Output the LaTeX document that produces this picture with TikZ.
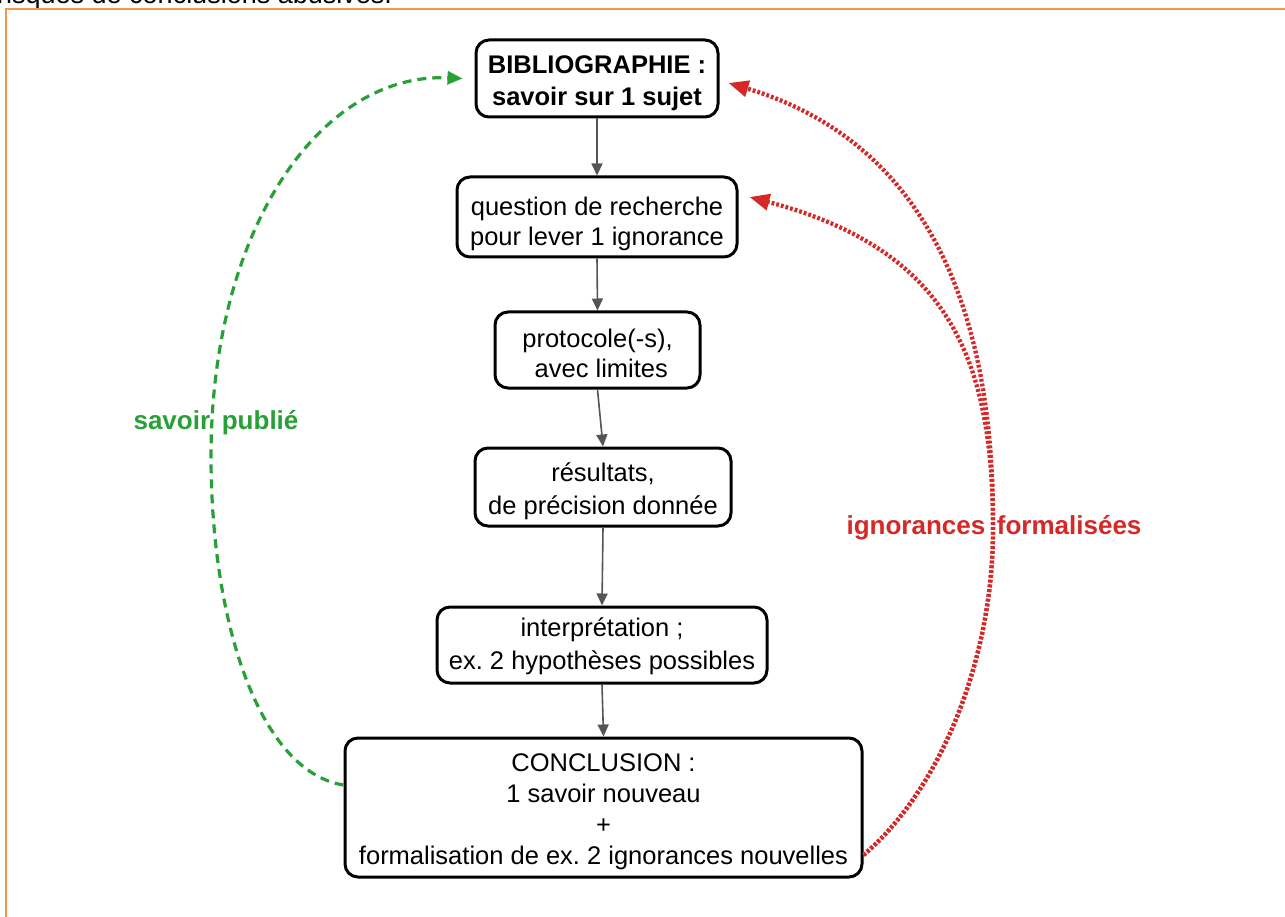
\documentclass[tikz,border=0pt]{standalone}
\usepackage{fontspec}
\setmainfont{Liberation Sans}
\usetikzlibrary{arrows.meta}
\frenchspacing
\definecolor{frameorange}{RGB}{247,150,70}
\definecolor{arrowgray}{RGB}{85,85,85}
\definecolor{pubgreen}{RGB}{40,160,55}
\definecolor{ignred}{RGB}{215,40,40}
\newcommand\mystrut[1]{\rule{0pt}{#1pt}}
\tikzset{
  stepbox/.style={draw=black, line width=3pt, rounded corners=13pt, align=center,
    font=\fontsize{25.5}{30.5}\selectfont, inner sep=0pt},
  flow/.style={draw=arrowgray, line width=1.6pt, -{Triangle[length=12pt,width=11pt]}},
  pubarrow/.style={draw=pubgreen, line width=3.2pt, dash pattern=on 9pt off 6pt,
    -{Triangle[length=15pt,width=13pt]}},
  ignarrow/.style={draw=ignred, line width=4.3pt, dash pattern=on 2.8pt off 2pt,
    -{Triangle[length=20pt,width=16pt]}},
  lbl/.style={font=\bfseries\fontsize{26}{30}\selectfont, inner sep=0pt}
}
\begin{document}
\begin{tikzpicture}[x=1pt,y=-1pt]
\useasboundingbox (0,0) rectangle (1285,917);
\clip (0,0) rectangle (1285,917);
\fill[white] (0,0) rectangle (1285,917);
% cut text at top and frame
\node[anchor=base west, inner sep=0pt, font=\fontsize{27}{32}\selectfont] (toptext) at (-3,4) {risques de conclusions abusives.};
\draw[frameorange, line width=2pt] (6,1000) -- (6,9) -- (1300,9);
% boxes
\node[stepbox, minimum width=242, minimum height=77, font=\bfseries\fontsize{25.5}{32}\selectfont] (bib) at (597,78.5) {\mystrut{28}BIBLIOGRAPHIE :\\savoir sur 1 sujet};
\node[stepbox, minimum width=280, minimum height=80] (q) at (597,217) {\mystrut{32}question de recherche\\pour lever 1 ignorance};
\node[stepbox, minimum width=205, minimum height=76] (proto) at (597.5,350) {\mystrut{25}protocole(-s),\\\hspace*{0.3em}avec limites};
\node[stepbox, minimum width=256, minimum height=78, font=\fontsize{25.5}{33}\selectfont] (res) at (603,487) {\mystrut{27}résultats,\\de précision donnée};
\node[stepbox, minimum width=330, minimum height=76, font=\fontsize{25.5}{33}\selectfont] (interp) at (602,645) {\mystrut{21}interprétation ;\\ex. 2 hypothèses possibles};
\node[stepbox, minimum width=517, minimum height=139, font=\fontsize{25.5}{31}\selectfont] (concl) at (603.5,807.5) {\mystrut{27}CONCLUSION :\\1 savoir nouveau\\+\\formalisation de ex. 2 ignorances nouvelles};
% flow arrows
\draw[flow] (bib.south) -- (q.north);
\draw[flow] (q.south) -- (proto.north);
\draw[flow] (proto.south) -- (res.north);
\draw[flow] (res.south) -- (interp.north);
\draw[flow] (interp.south) -- (concl.north);
% green feedback
\draw[pubarrow] ([yshift=22.5pt]concl.west) .. controls (262,772) and (212,630) .. (211,460)
  .. controls (210,230) and (320,72) .. ([xshift=-12pt]bib.west);
\node[lbl, text=pubgreen] (pub) at (216,423) {savoir\hspace{0.45em}publié};
% red feedbacks
\draw[ignarrow] ([yshift=-47.5pt]concl.east) .. controls (940,790) and (993,660) .. (993,530)
  .. controls (995,300) and (920,140) .. ([xshift=9pt,yshift=-4.5pt]bib.east);
\draw[ignarrow] ([yshift=-47.5pt]concl.east) .. controls (940,790) and (993,660) .. (993,530)
  .. controls (993,360) and (950,250) .. ([xshift=11pt,yshift=20pt]q.east);
\node[lbl, text=ignred] (ign) at (994,528) {ignorances\hspace{0.45em}formalisées};
\end{tikzpicture}
\end{document}
